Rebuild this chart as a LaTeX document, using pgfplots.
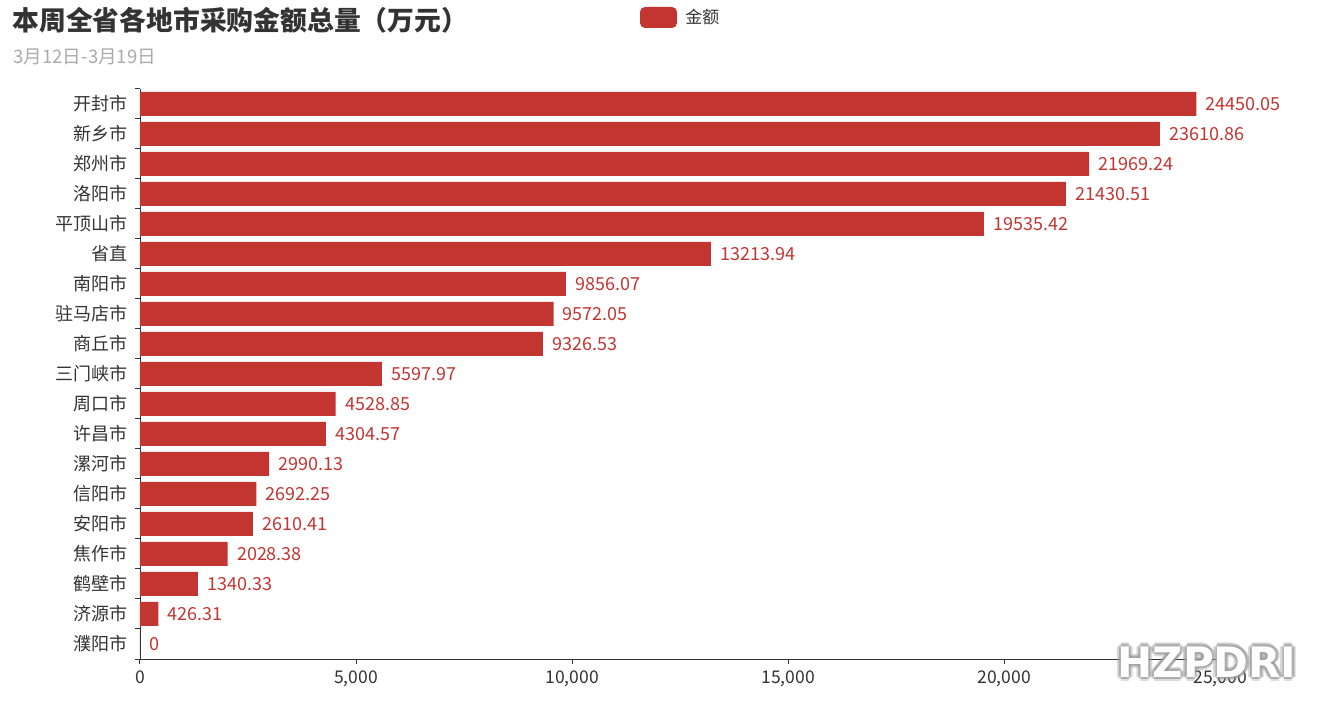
\documentclass[border=0pt]{standalone}
\usepackage{fontspec}
\setmainfont{Noto Sans CJK SC}
\newfontfamily\wmfont{DejaVu Sans}
\usepackage{pgfplots}
\pgfplotsset{compat=1.18}
\usepackage{pgfplotstable}
\definecolor{barred}{HTML}{C23531}
\definecolor{txt}{HTML}{333333}
\definecolor{subc}{HTML}{AAAAAA}

\pgfplotstableread{
y x label
18 24450.05 24450.05
17 23610.86 23610.86
16 21969.24 21969.24
15 21430.51 21430.51
14 19535.42 19535.42
13 13213.94 13213.94
12 9856.07 9856.07
11 9572.05 9572.05
10 9326.53 9326.53
9 5597.97 5597.97
8 4528.85 4528.85
7 4304.57 4304.57
6 2990.13 2990.13
5 2692.25 2692.25
4 2610.41 2610.41
3 2028.38 2028.38
2 1340.33 1340.33
1 426.31 426.31
0 0 0
}\datatable

\begin{document}
\begin{tikzpicture}[x=1pt,y=1pt]
\useasboundingbox (0,0) rectangle (660.5,350.5);
\node[anchor=west, font=\fontsize{13.4}{15}\selectfont\bfseries, text=txt, inner sep=0] at (6,340.5) {本周全省各地市采购金额总量（万元）};
\node[anchor=west, font=\fontsize{9.3}{11}\selectfont, text=subc, inner sep=0] at (6.5,322) {3月12日-3月19日};
\fill[barred, rounded corners=2.5pt] (320,336.5) rectangle (338.5,347);
\node[anchor=west, font=\fontsize{8.5}{10}\selectfont, text=txt, inner sep=0] at (342.5,341.75) {金额};
\begin{axis}[
  name=main,
  at={(70pt,21pt)}, anchor=south west,
  width=540pt, height=285pt, scale only axis,
  xmin=0, xmax=25000, ymin=-0.5, ymax=18.5,
  xbar, bar width=12pt,
  axis x line*=bottom, axis y line*=left,
  axis line style={draw=txt,-},
  tick align=outside, major tick length=2.5pt,
  tick style={draw=txt, line width=0.5pt},
  xtick={0,5000,10000,15000,20000,25000},
  scaled x ticks=false,
  /pgf/number format/assume math mode=true,
  /pgf/number format/1000 sep={,},
  xticklabel style={font=\fontsize{8.75}{10}\selectfont, text=txt},
  ytick={-0.5,0.5,...,18.5},
  yticklabels={},
  extra y ticks={0,1,...,18},
  extra y tick labels={濮阳市,济源市,鹤壁市,焦作市,安阳市,信阳市,漯河市,许昌市,周口市,三门峡市,商丘市,驻马店市,南阳市,省直,平顶山市,洛阳市,郑州市,新乡市,开封市},
  extra y tick style={major tick length=0pt, tick style={draw=none},
     yticklabel style={font=\fontsize{9}{10}\selectfont, text=txt, inner xsep=0pt, xshift=-6pt}},
  clip=false,
]
\addplot[fill=barred, draw=none,
  nodes near coords, point meta=explicit symbolic,
  nodes near coords style={text=barred, anchor=west, inner xsep=4.5pt, font=\fontsize{9}{10}\selectfont}]
  table[x=x, y=y, meta=label]{\datatable};
\end{axis}
\foreach \dx/\dy in {-1.2/0,1.2/0,0/-1.2,0/1.2,-0.9/-0.9,0.9/0.9,-0.9/0.9,0.9/-0.9,-2/0,2/0,0/-2,0/2}
  \node[font=\wmfont\fontsize{21}{22}\selectfont\bfseries, text=black!40, opacity=0.35, inner sep=0] at (603.5+\dx,19.5+\dy) {HZPDRI};
\node[font=\wmfont\fontsize{21}{22}\selectfont\bfseries, text=white, inner sep=0] at (603.5,19.5) {HZPDRI};
\end{tikzpicture}
\end{document}
